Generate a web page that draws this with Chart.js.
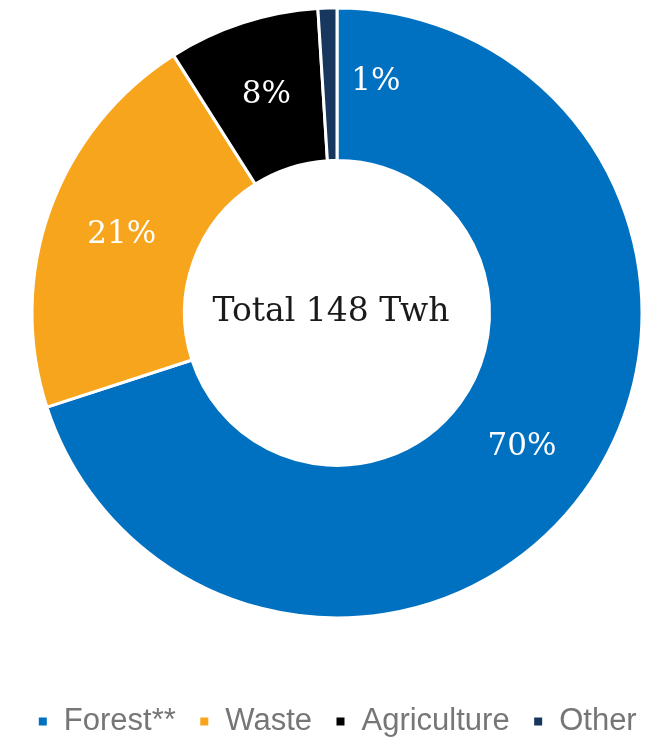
<!DOCTYPE html>
<html>
<head>
<meta charset="utf-8">
<script src="https://cdn.jsdelivr.net/npm/chart.js@4.4.1/dist/chart.umd.min.js"></script>
<style>
    html, body { margin: 0; padding: 0; background: #ffffff; }
    #wrap { width: 662px; height: 739px; }
</style>
</head>
<body>
<div id="wrap"><canvas id="energyChart"></canvas></div>
<script>
// Bioenergy supply by source, share of total (%)
const sources = ["Forest**", "Waste", "Agriculture", "Other"];
const shares = [70, 21, 8, 1];
const sliceColors = ["#0070C0", "#F7A51C", "#000000", "#17375E"];
const totalLabel = "Total 148 Twh";

// Writes the percentage on each slice and the total in the hole
const sliceLabels = {
    id: "sliceLabels",
    afterDatasetsDraw(chart) {
        const ctx = chart.ctx;
        const meta = chart.getDatasetMeta(0);
        ctx.save();
        ctx.fillStyle = "#ffffff";
        ctx.font = "31px 'DejaVu Serif'";
        ctx.textAlign = "center";
        ctx.textBaseline = "middle";
        meta.data.forEach((arc, i) => {
            const pos = arc.tooltipPosition();
            let x = pos.x, y = pos.y;
            if (i === 3) { x += 46; y -= 2; } // tiny slice: label sits beside it
            ctx.fillText(shares[i] + "%", x, y);
        });
        const center = meta.data[0];
        ctx.fillStyle = "#1a1a1a";
        ctx.font = "33px 'DejaVu Serif'";
        ctx.fillText(totalLabel, center.x - 6, center.y);
        ctx.restore();
    }
};

new Chart(document.getElementById("energyChart").getContext("2d"), {
    type: "doughnut",
    data: {
        labels: sources,
        datasets: [{
            data: shares,
            backgroundColor: sliceColors,
            borderColor: "#ffffff",
            borderWidth: 3,
            hoverOffset: 0
        }]
    },
    options: {
        responsive: true,
        maintainAspectRatio: false,
        animation: false,
        radius: 305,
        cutout: "50%",
        layout: {
            padding: { top: 0, left: 12, right: 0, bottom: -8 }
        },
        plugins: {
            legend: {
                display: true,
                position: "bottom",
                // empty title only adds room above the legend row
                title: { display: true, text: "", font: { size: 1 }, padding: { top: 56, bottom: 0 } },
                labels: {
                    boxWidth: 11,
                    boxHeight: 11,
                    padding: 23,
                    color: "#767676",
                    font: { family: "'Liberation Sans', Arial, sans-serif", size: 31 }
                }
            },
            tooltip: { enabled: false }
        }
    },
    plugins: [sliceLabels]
});
</script>
</body>
</html>
